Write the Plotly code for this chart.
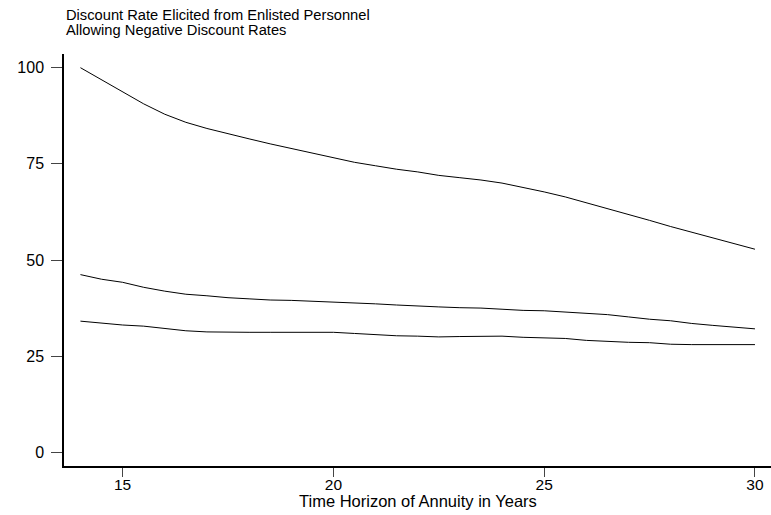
import plotly.graph_objects as go

years = [14, 14.5, 15, 15.5, 16, 16.5, 17, 17.5, 18, 18.5, 19, 19.5, 20, 20.5, 21, 21.5,
         22, 22.5, 23, 23.5, 24, 24.5, 25, 25.5, 26, 26.5, 27, 27.5, 28, 28.5, 29, 29.5, 30]

upper = [100, 96.9, 93.9, 90.6, 87.9, 85.8, 84.2, 82.8, 81.5, 80.2, 79.0, 77.8, 76.5, 75.4,
         74.5, 73.6, 72.9, 72.0, 71.4, 70.8, 70.0, 68.9, 67.7, 66.4, 64.9, 63.3, 62.0, 60.3,
         58.7, 57.2, 55.7, 54.2, 52.8]

middle = [46.2, 45.0, 44.2, 42.9, 41.9, 41.1, 40.7, 40.2, 39.9, 39.6, 39.5, 39.3, 39.0, 38.9,
          38.6, 38.3, 38.0, 37.8, 37.6, 37.5, 37.2, 36.9, 36.8, 36.5, 36.2, 35.8, 35.2, 34.6,
          34.2, 33.5, 33.0, 32.6, 32.1]

lower = [34.1, 33.6, 33.1, 32.8, 32.2, 31.6, 31.3, 31.2, 31.2, 31.2, 31.2, 31.2, 31.2, 30.9,
         30.6, 30.3, 30.2, 30.0, 30.1, 30.2, 30.2, 29.9, 29.7, 29.6, 29.1, 28.8, 28.6, 28.5,
         28.1, 28.0, 28.0, 28.0, 28.0]

x_ticks = [15, 20, 25, 30]
y_ticks = [0, 25, 50, 75, 100]
title_line1 = "Discount Rate Elicited from Enlisted Personnel"
title_line2 = "Allowing Negative Discount Rates"
x_title = "Time Horizon of Annuity in Years"

fig = go.Figure()
for s in (upper, middle, lower):
    fig.add_trace(go.Scatter(x=years, y=s, mode="lines",
                             line=dict(color="black", width=1), showlegend=False,
                             hoverinfo="skip"))

font_family = "Liberation Sans, Arial, sans-serif"
fig.update_layout(
    width=771, height=515,
    margin=dict(l=64, r=0, t=54, b=49),
    paper_bgcolor="white", plot_bgcolor="white",
    font=dict(family=font_family, color="black", size=15),
    xaxis=dict(range=[13.61, 30.38], tickvals=x_ticks, ticks="outside", ticklen=9,
               tickwidth=1, tickcolor="#444", showline=True, linecolor="black",
               linewidth=1.5, showgrid=False, zeroline=False, automargin=False,
               tickfont=dict(size=15.5), ticklabelstandoff=-5),
    yaxis=dict(range=[-3.56, 103.56], tickvals=y_ticks, ticks="outside", ticklen=11,
               tickwidth=1, tickcolor="#444", showline=True, linecolor="black",
               linewidth=1.5, showgrid=False, zeroline=False, automargin=False,
               tickfont=dict(size=16), ticklabelstandoff=4),
    annotations=[
        dict(text=title_line1, xref="paper", yref="paper", x=0, y=1 + (54 - 15) / 412,
             xanchor="left", yanchor="middle", align="left", showarrow=False,
             font=dict(size=14.7, family=font_family)),
        dict(text=title_line2, xref="paper", yref="paper", x=0, y=1 + (54 - 30.5) / 412,
             xanchor="left", yanchor="middle", align="left", showarrow=False,
             font=dict(size=14.7, family=font_family)),
        dict(text=x_title, xref="paper", yref="paper", x=0.5, y=-(501 - 466) / 412,
             xanchor="center", yanchor="middle", showarrow=False,
             font=dict(size=16.5, family=font_family)),
    ],
)

fig.write_html("out.html")
